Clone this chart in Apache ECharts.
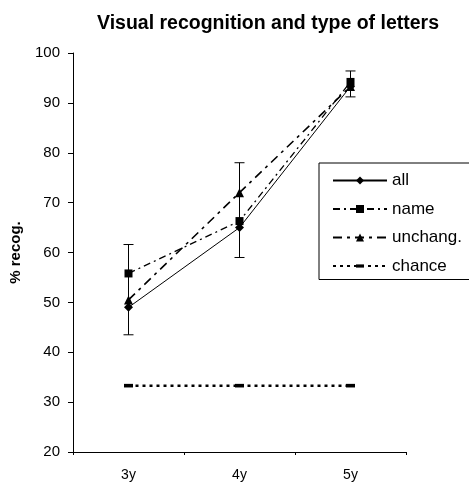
<!DOCTYPE html>
<html>
<head>
<meta charset="utf-8">
<script src="https://cdn.jsdelivr.net/npm/echarts@6/dist/echarts.min.js"></script>
<style>
html,body{margin:0;padding:0;background:#fff;}
#c{width:469px;height:482px;}
</style>
</head>
<body>
<div id="c"></div>
<script>
var categories = ['3y', '4y', '5y'];
var allVals = [49, 65, 93.3];
var nameVals = [55.8, 66.3, 94.2];
var unchangVals = [50.5, 72, 93.3];
var chanceVals = [33.3, 33.3, 33.3];
var errLow = [43.5, 59, 91.2];
var errHigh = [61.6, 78, 96.4];
var yTicks = [20, 30, 40, 50, 60, 70, 80, 90, 100];

var FONT = 'Liberation Sans, Arial, sans-serif';
var chart = echarts.init(document.getElementById('c'));

var errData = categories.map(function (c, i) { return [i, errLow[i], errHigh[i]]; });
var dashSymbol = 'path://M0,0L0,0M10,10L10,10M0,3H10V7H0Z';

chart.setOption({
  animation: false,
  backgroundColor: '#fff',
  title: {
    text: 'Visual recognition and type of letters',
    left: 263, top: 9, textAlign: 'center',
    textStyle: { fontFamily: FONT, fontWeight: 'bold', fontSize: 19.5, color: '#000' }
  },
  grid: { left: 69, right: 63, top: 53, bottom: 29, containLabel: false },
  legend: {
    orient: 'vertical',
    left: 319, top: 163,
    padding: [9, 10, 5, 13],
    itemGap: 11.5,
    itemWidth: 54, itemHeight: 10,
    borderColor: '#000', borderWidth: 1,
    backgroundColor: '#fff',
    textStyle: { fontFamily: FONT, fontSize: 17, color: '#000' },
    data: ['all', 'name', 'unchang.', 'chance']
  },
  xAxis: {
    type: 'category',
    data: categories,
    boundaryGap: true,
    axisLine: { lineStyle: { color: '#000', width: 1 } },
    axisTick: { show: true, length: 3, inside: false, lineStyle: { color: '#000' } },
    axisLabel: { fontFamily: FONT, fontSize: 14, color: '#000', margin: 16 },
    splitLine: { show: false }
  },
  yAxis: {
    type: 'value',
    min: 20, max: 100, interval: 10,
    name: '% recog.',
    nameLocation: 'middle',
    nameGap: 50,
    nameRotate: 90,
    nameTextStyle: { fontFamily: FONT, fontSize: 15, fontWeight: 'bold', color: '#000' },
    axisLine: { show: true, lineStyle: { color: '#000', width: 1 } },
    axisTick: { show: true, length: 5, lineStyle: { color: '#000' } },
    axisLabel: {
      fontFamily: FONT, fontSize: 15, color: '#000', margin: 13,
      formatter: function (v) { return yTicks.indexOf(v) >= 0 ? String(v) : ''; }
    },
    splitLine: { show: false }
  },
  series: [
    {
      name: 'errors',
      type: 'custom',
      data: errData,
      z: 1,
      renderItem: function (params, api) {
        var x = api.value(0);
        var lo = api.coord([x, api.value(1)]);
        var hi = api.coord([x, api.value(2)]);
        var hw = 5;
        return {
          type: 'group',
          children: [
            { type: 'line', shape: { x1: lo[0], y1: lo[1], x2: hi[0], y2: hi[1] }, style: { stroke: '#000', lineWidth: 1 } },
            { type: 'line', shape: { x1: lo[0] - hw, y1: lo[1], x2: lo[0] + hw, y2: lo[1] }, style: { stroke: '#000', lineWidth: 1 } },
            { type: 'line', shape: { x1: hi[0] - hw, y1: hi[1], x2: hi[0] + hw, y2: hi[1] }, style: { stroke: '#000', lineWidth: 1 } }
          ]
        };
      }
    },
    {
      name: 'all', type: 'line', data: allVals,
      symbol: 'diamond', symbolSize: 9,
      itemStyle: { color: '#000' },
      lineStyle: { color: '#000', width: 1, type: 'solid' },
      z: 3
    },
    {
      name: 'name', type: 'line', data: nameVals,
      symbol: 'rect', symbolSize: 8,
      itemStyle: { color: '#000' },
      lineStyle: { color: '#000', width: 1.3, type: [7, 4, 2, 4] },
      z: 3
    },
    {
      name: 'unchang.', type: 'line', data: unchangVals,
      symbol: 'triangle', symbolSize: 9,
      itemStyle: { color: '#000' },
      lineStyle: { color: '#000', width: 1.6, type: [9, 5, 3, 5] },
      z: 3
    },
    {
      name: 'chance', type: 'line', data: chanceVals,
      symbol: dashSymbol, symbolSize: 9,
      itemStyle: { color: '#000' },
      lineStyle: { color: '#000', width: 2.5, type: [3, 4] },
      z: 3
    }
  ]
});
</script>
</body>
</html>
